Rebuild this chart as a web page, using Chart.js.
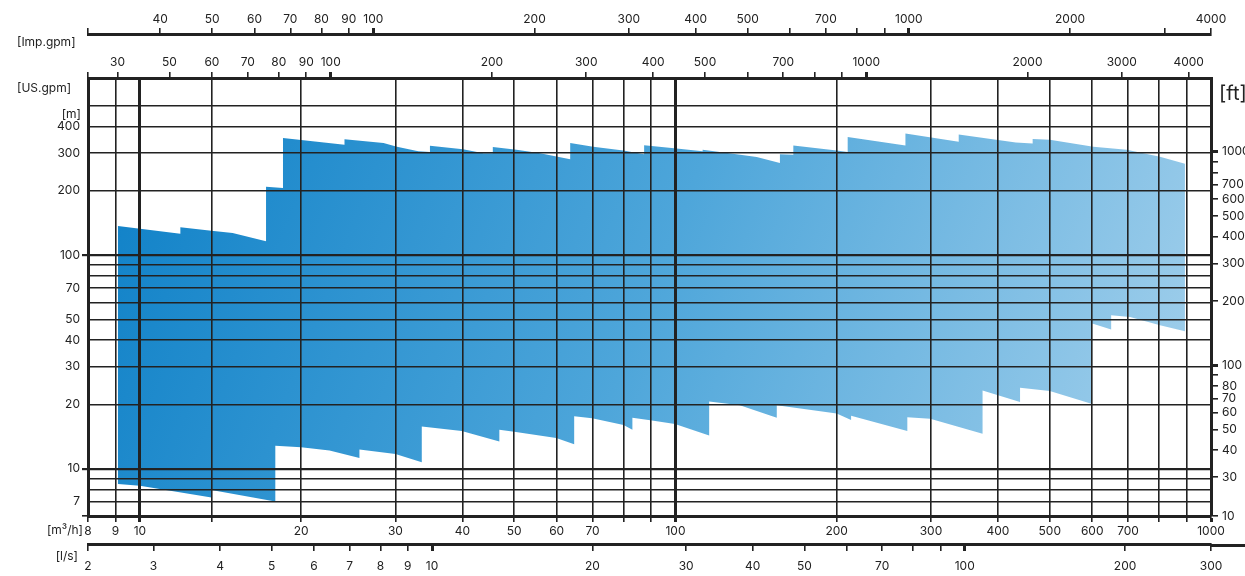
<!DOCTYPE html>
<html>
<head>
<meta charset="utf-8">
<script src="https://cdn.jsdelivr.net/npm/chart.js@4.4.1/dist/chart.umd.min.js"></script>
<style>
  html, body { margin: 0; padding: 0; background: #fff; }
  canvas { display: block; }
</style>
</head>
<body>
<canvas id="pumpChart" width="1245" height="576"></canvas>
<script>
// operating range envelope: flow in m3/h, head in m
const upperFlow = [9.1, 11.9, 11.9, 13.6, 14.9, 17.2, 17.2, 18.5, 18.5, 24.1, 24.1, 28.5, 30.2, 33.1, 34.8, 34.8, 40.1, 43.8, 45.6, 45.6, 50.5, 55.9, 63.6, 63.6, 70.2, 79.9, 87.4, 87.4, 100.5, 112.4, 112.4, 126, 141.8, 156.7, 156.7, 166, 166, 200, 209.7, 209.7, 268.8, 268.8, 338, 338, 432, 464.5, 464.5, 500, 603, 696, 803, 894];
const upperHead = [137, 126, 135, 130, 127, 116, 209, 206, 353, 329, 349, 335, 322, 306, 304, 325, 313, 300, 300, 321, 311, 300, 281, 335, 322, 309, 297, 327, 316, 306, 311, 300, 288, 270, 297, 295, 326, 309, 304, 357, 326, 371, 339, 367, 337, 333, 350, 347, 322, 311, 289, 268];
const lowerFlow = [9.1, 10, 13.6, 13.6, 17.9, 17.9, 20, 22.6, 25.7, 25.7, 30, 33.6, 33.6, 39.9, 46.9, 46.9, 50, 59.9, 64.7, 64.7, 69.9, 80, 83.1, 83.1, 90.4, 99.8, 115.6, 115.6, 131.9, 154.6, 154.6, 200, 212.8, 212.8, 271, 271, 299, 374.5, 374.5, 440, 440, 500, 600, 600, 651, 651, 706, 803, 894];
const lowerHead = [8.48, 8.32, 7.33, 7.94, 7.02, 12.8, 12.6, 12.15, 11.2, 12.3, 11.7, 10.7, 15.75, 15.0, 13.4, 15.2, 14.9, 13.9, 13.0, 17.6, 17.2, 16.0, 15.2, 17.3, 16.8, 16.2, 14.3, 20.6, 19.8, 17.3, 19.8, 18.1, 16.9, 17.7, 15.0, 17.4, 17.1, 14.55, 23.2, 20.5, 23.9, 23.1, 20.1, 47.8, 44.8, 52.3, 51.3, 46.9, 44];

// axis ranges
const flowMin = 8, flowMax = 1000;
const headMin = 6, headMax = 675;
const lsMin = 2.26, lsMax = 290;
const usMin = flowMin * 4.4029, usMax = flowMax * 4.4029;
const impMin = flowMin * 3.6662, impMax = flowMax * 3.6662;
const ftMin = headMin * 3.2808, ftMax = headMax * 3.2808;

// ticks and their labels
const flowTicks = [8, 9, 10, 13.6, 20, 30, 40, 50, 60, 70, 80, 90, 100, 200, 300, 400, 500, 600, 700, 800, 900, 1000];
const flowLabels = ['8', '9', '10', '', '20', '30', '40', '50', '60', '70', '', '', '100', '200', '300', '400', '500', '600', '700', '', '', '1000'];
const lsTicks = [2, 3, 4, 5, 6, 7, 8, 9, 10, 20, 30, 40, 50, 60, 70, 80, 90, 100, 200, 300];
const lsLabels = ['2', '3', '4', '5', '6', '7', '8', '9', '10', '20', '30', '40', '50', '', '70', '', '', '100', '200', '300'];
const usTicks = [usMin, 40, 50, 60, 70, 80, 90, 100, 200, 300, 400, 500, 600, 700, 800, 900, 1000, 2000, 3000, 4000];
const usLabels = ['', '30', '50', '60', '70', '80', '90', '100', '200', '300', '400', '500', '', '700', '', '', '1000', '2000', '3000', '4000'];
const impTicks = [impMin, 40, 50, 60, 70, 80, 90, 100, 200, 300, 400, 500, 600, 700, 800, 900, 1000, 2000, 3000, 4000];
const impLabels = ['', '40', '50', '60', '70', '80', '90', '100', '200', '300', '400', '500', '', '700', '', '', '1000', '2000', '', '4000'];
const headTicks = [6, 7, 8, 9, 10, 20, 30, 40, 50, 60, 70, 80, 90, 100, 200, 300, 400, 500];
const headLabels = ['', '7', '', '', '10', '20', '30', '40', '50', '', '70', '', '', '100', '200', '300', '400', ''];
const ftTicks = [10, 30, 40, 50, 60, 70, 80, 90, 100, 200, 300, 400, 500, 600, 700, 800, 900, 1000];
const ftLabels = ['10', '30', '40', '50', '60', '70', '80', '', '100', '200', '300', '400', '500', '600', '700', '', '', '1000'];

const INK = '#222';
const FONT = { family: 'Inter', size: 12 };

// closed outline: along the top, then back along the bottom
const outline = upperFlow.map((q, i) => ({ x: q, y: upperHead[i] }))
  .concat(lowerFlow.map((q, i) => ({ x: q, y: lowerHead[i] })).reverse());

function areaFill(c) {
  const a = c.chart.chartArea;
  if (!a) return '#3a9ad6';
  const g = c.chart.ctx.createLinearGradient(a.left, a.top, a.right, a.bottom);
  g.addColorStop(0, '#0a7ec6');
  g.addColorStop(0.5, '#4ea6da');
  g.addColorStop(1, '#a9d3ed');
  return g;
}

function logAxis(opt) {
  const values = opt.values, labels = opt.labels, major = opt.major || [];
  const horizontal = opt.position === 'top' || opt.position === 'bottom';
  return {
    type: 'logarithmic',
    position: opt.position,
    min: opt.min,
    max: opt.max,
    weight: opt.weight || 0,
    afterBuildTicks: (s) => {
      s.ticks = values.map(v => ({ value: Math.min(Math.max(v, s.min), s.max) }));
    },
    afterFit: (s) => {
      if (horizontal) s.height = opt.size; else s.width = opt.size;
    },
    ticks: {
      autoSkip: false,
      maxRotation: 0,
      minRotation: 0,
      padding: opt.padding,
      color: INK,
      font: FONT,
      z: 2,
      callback: (v, i) => labels[i]
    },
    grid: {
      z: 1,
      drawOnChartArea: !!opt.onArea,
      color: INK,
      lineWidth: (c) => major.includes(values[c.index]) ? (opt.majorWidth || 3) : 1.6,
      tickLength: opt.tickLength || 6,
      tickColor: (c) => (opt.tickOnly && !opt.tickOnly.includes(values[c.index])) ? 'rgba(0,0,0,0)' : INK
    },
    border: { display: true, color: INK, width: 3, z: 2 }
  };
}

const labelsPlugin = {
  id: 'unitLabels',
  afterDraw(chart) {
    const c = chart.ctx;
    const ls = chart.scales.x2;
    c.save();
    c.strokeStyle = INK;
    c.lineWidth = 3;
    c.beginPath();
    c.moveTo(ls.right, ls.top + 1.5);
    c.lineTo(chart.width, ls.top + 1.5);
    c.stroke();
    c.fillStyle = INK;
    c.font = '12px Inter';
    c.textBaseline = 'middle';
    c.textAlign = 'left';
    c.fillText('[Imp.gpm]', 17, 42);
    c.fillText('[US.gpm]', 17, 88);
    c.textAlign = 'right';
    c.fillText('[m]', 81, 114);
    c.fillText('[m³/h]', 83, 530);
    c.fillText('[l/s]', 78, 556);
    c.textAlign = 'left';
    c.font = '20px Inter';
    c.fillText('[ft]', 1219, 94);
    c.restore();
  }
};

new Chart(document.getElementById('pumpChart'), {
  type: 'line',
  data: {
    datasets: [{
      data: outline,
      fill: 'shape',
      backgroundColor: areaFill,
      borderWidth: 0,
      pointRadius: 0,
      tension: 0
    }]
  },
  options: {
    responsive: false,
    animation: false,
    layout: { padding: 0 },
    plugins: { legend: { display: false }, tooltip: { enabled: false } },
    scales: {
      x: logAxis({ position: 'bottom', min: flowMin, max: flowMax, values: flowTicks, labels: flowLabels,
        major: [10, 100, 1000], size: 28, padding: 2, onArea: true }),
      x2: logAxis({ position: 'bottom', min: lsMin, max: lsMax, values: lsTicks, labels: lsLabels,
        major: [10, 100], size: 32, padding: 8, weight: 1, tickLength: 7 }),
      x3: logAxis({ position: 'top', min: usMin, max: usMax, values: usTicks, labels: usLabels,
        major: [100, 1000], size: 44, padding: 2 }),
      x4: logAxis({ position: 'top', min: impMin, max: impMax, values: impTicks, labels: impLabels,
        major: [100, 1000], size: 34, padding: 1, weight: 1 }),
      y: logAxis({ position: 'left', min: headMin, max: headMax, values: headTicks, labels: headLabels,
        major: [10, 100], majorWidth: 2.2, size: 88, padding: 2, onArea: true, tickOnly: [6, 10, 100] }),
      y2: logAxis({ position: 'right', min: ftMin, max: ftMax, values: ftTicks, labels: ftLabels,
        major: [100, 1000], size: 34, padding: 4, tickLength: 7 })
    }
  },
  plugins: [labelsPlugin]
});
</script>
</body>
</html>
